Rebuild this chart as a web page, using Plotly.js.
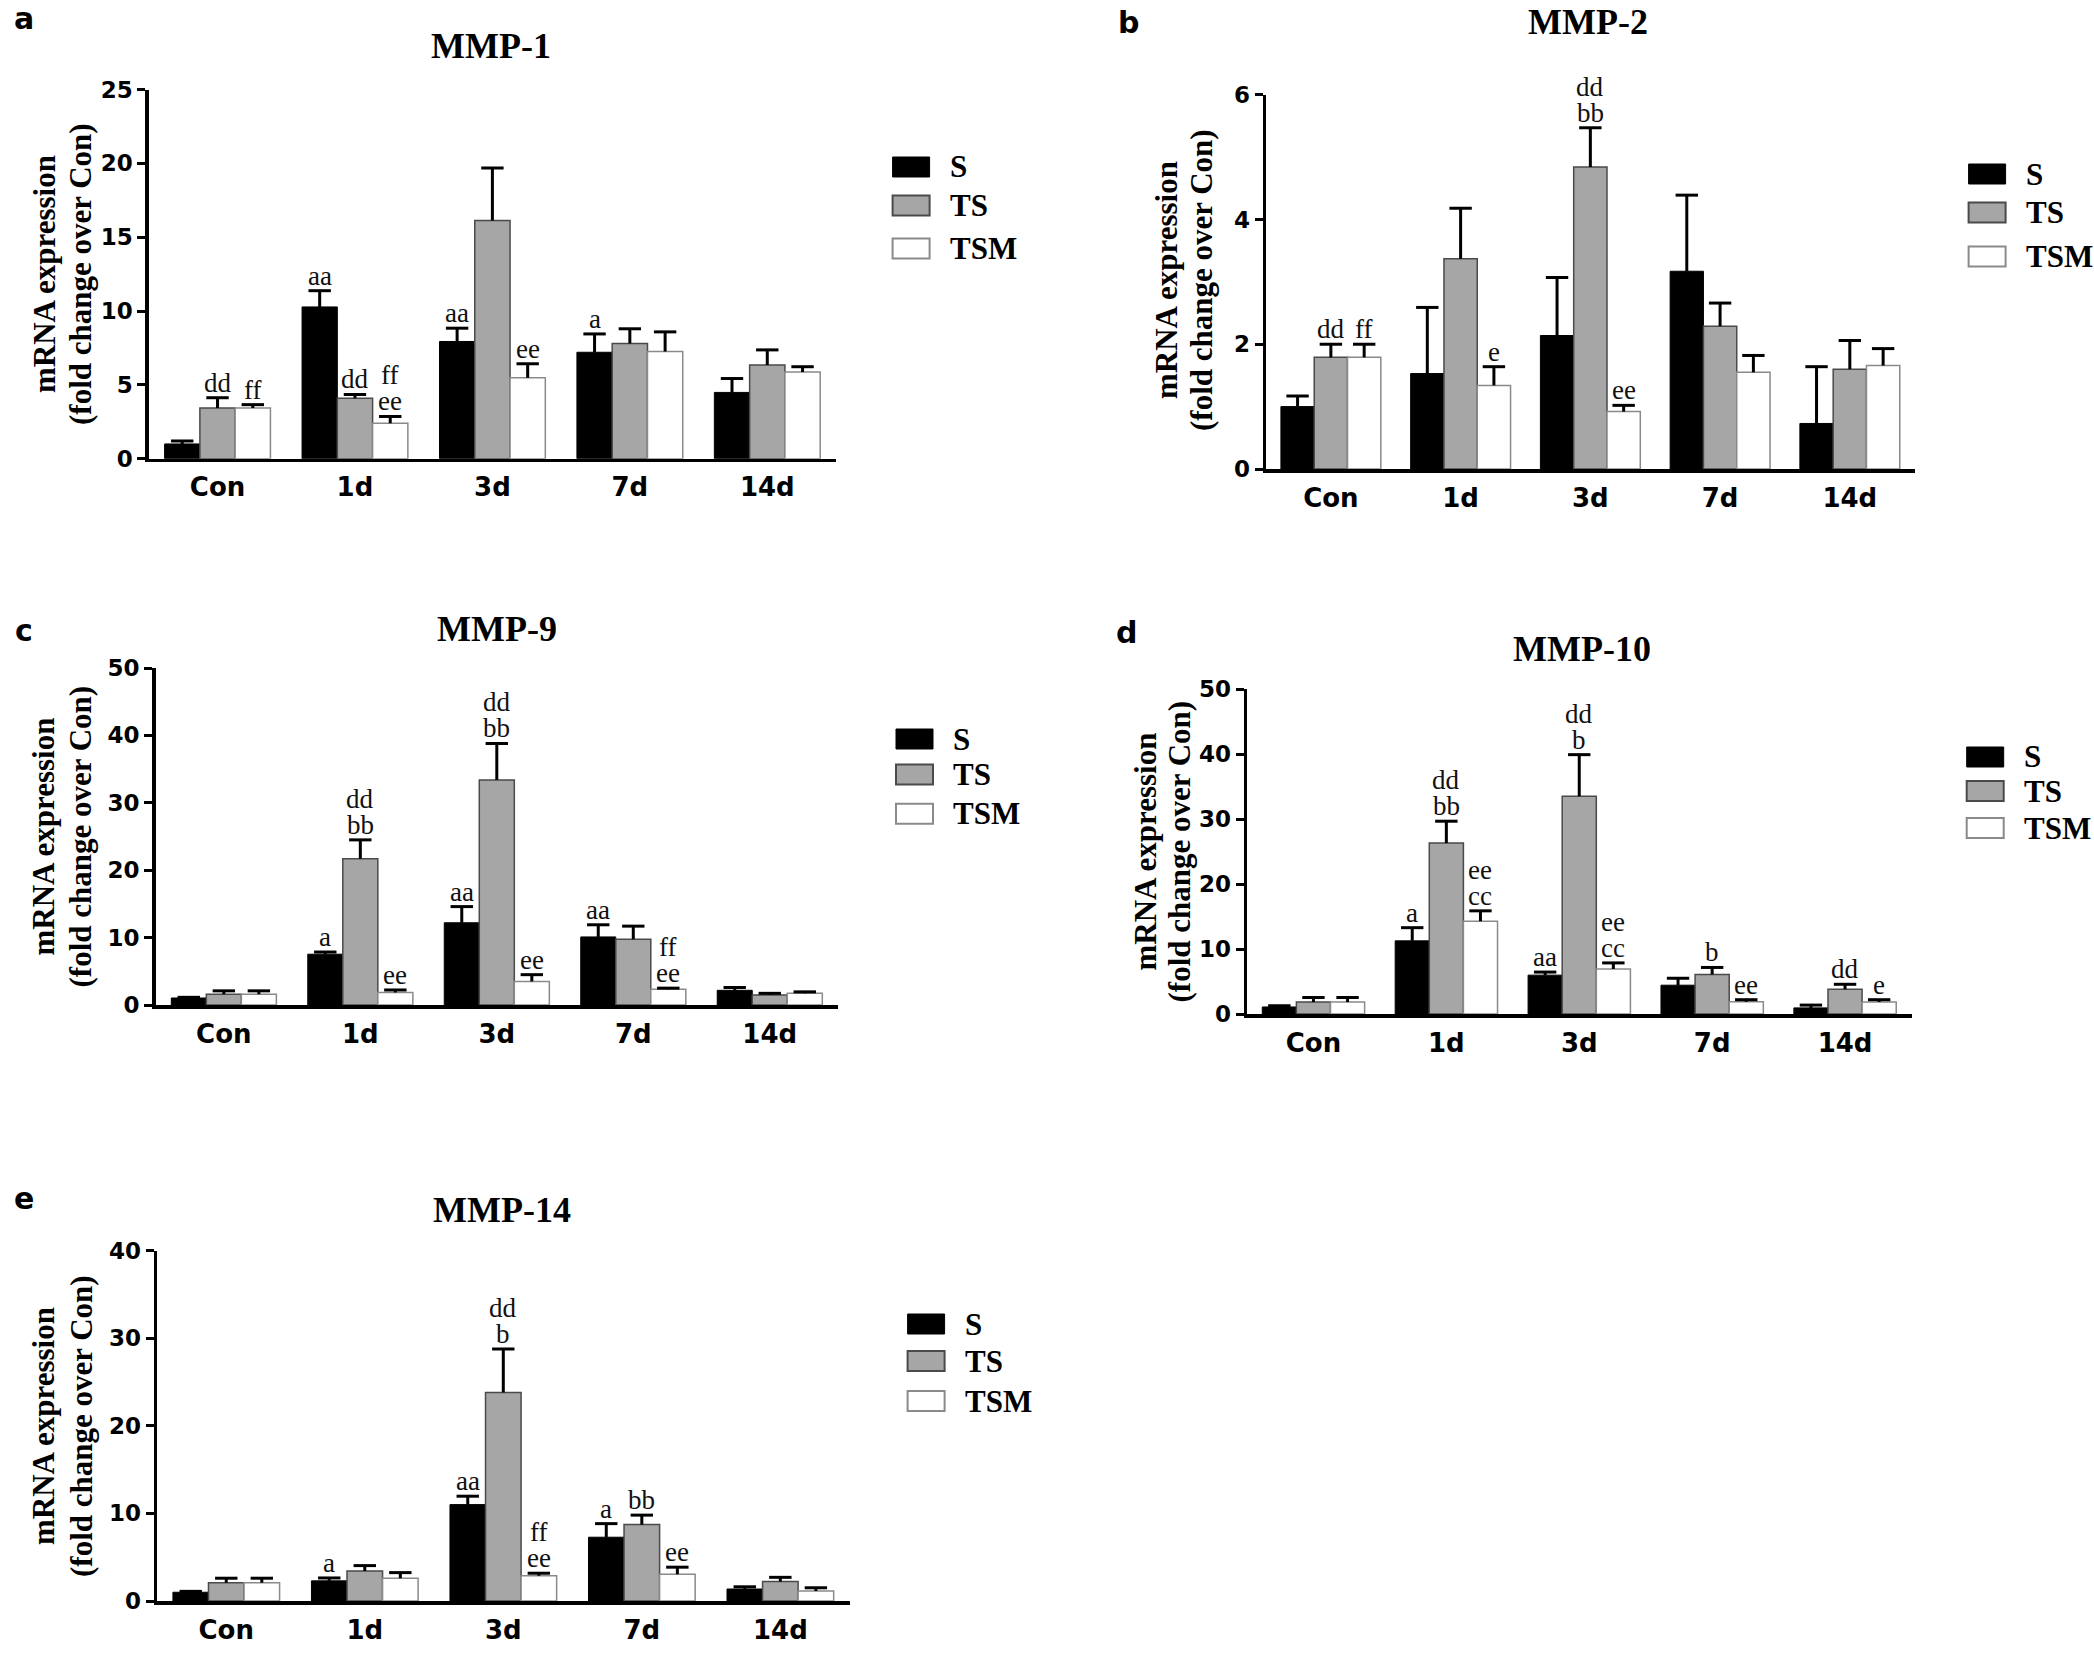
<!DOCTYPE html>
<html><head><meta charset="utf-8">
<script src="https://cdn.plot.ly/plotly-3.0.1.min.js"></script>
<style>html,body{margin:0;padding:0;background:#fff}#chart{width:2094px;height:1665px}</style>
</head><body><div id="chart"></div>
<script>
const categories = ['Con', '1d', '3d', '7d', '14d'];
const seriesNames = ['S', 'TS', 'TSM'];
const yTitleLines = ['mRNA expression', '(fold change over Con)'];

// MMP-1
const mmp1_S = [1.0, 10.28, 7.94, 7.21, 4.49];
const mmp1_S_err = [0.2, 1.1, 0.9, 1.24, 0.94];
const mmp1_TS = [3.43, 4.1, 16.14, 7.8, 6.34];
const mmp1_TS_err = [0.7, 0.25, 3.55, 1.0, 1.03];
const mmp1_TSM = [3.43, 2.4, 5.49, 7.26, 5.88];
const mmp1_TSM_err = [0.23, 0.46, 0.94, 1.33, 0.35];
const mmp1_S_sig = ['', 'aa', 'aa', 'a', ''];
const mmp1_TS_sig = ['dd', 'dd', '', '', ''];
const mmp1_TSM_sig = ['ff', 'ff<br>ee', 'ee', '', ''];

// MMP-2
const mmp2_S = [1.0, 1.53, 2.14, 3.17, 0.73];
const mmp2_S_err = [0.17, 1.06, 0.93, 1.22, 0.91];
const mmp2_TS = [1.79, 3.37, 4.84, 2.29, 1.6];
const mmp2_TS_err = [0.21, 0.81, 0.63, 0.37, 0.46];
const mmp2_TSM = [1.79, 1.34, 0.92, 1.55, 1.66];
const mmp2_TSM_err = [0.21, 0.3, 0.1, 0.27, 0.27];
const mmp2_S_sig = ['', '', '', '', ''];
const mmp2_TS_sig = ['dd', '', 'dd<br>bb', '', ''];
const mmp2_TSM_sig = ['ff', 'e', 'ee', '', ''];

// MMP-9
const mmp9_S = [1.04, 7.54, 12.2, 10.1, 2.18];
const mmp9_S_err = [0.1, 0.32, 2.4, 1.8, 0.42];
const mmp9_TS = [1.6, 21.7, 33.4, 9.76, 1.5];
const mmp9_TS_err = [0.5, 2.8, 5.4, 1.94, 0.23];
const mmp9_TSM = [1.6, 1.86, 3.5, 2.32, 1.73];
const mmp9_TSM_err = [0.5, 0.37, 1.0, 0.18, 0.22];
const mmp9_S_sig = ['', 'a', 'aa', 'aa', ''];
const mmp9_TS_sig = ['', 'dd<br>bb', 'dd<br>bb', '', ''];
const mmp9_TSM_sig = ['', 'ee', 'ee', 'ff<br>ee', ''];

// MMP-10
const mmp10_S = [1.08, 11.25, 5.98, 4.43, 0.94];
const mmp10_S_err = [0.19, 2.03, 0.47, 1.07, 0.43];
const mmp10_TS = [1.84, 26.3, 33.5, 6.07, 3.81];
const mmp10_TS_err = [0.7, 3.36, 6.4, 1.09, 0.76];
const mmp10_TSM = [1.84, 14.27, 6.92, 1.88, 1.84];
const mmp10_TSM_err = [0.7, 1.6, 0.94, 0.32, 0.36];
const mmp10_S_sig = ['', 'a', 'aa', '', ''];
const mmp10_TS_sig = ['', 'dd<br>bb', 'dd<br>b', 'b', 'dd'];
const mmp10_TSM_sig = ['', 'ee<br>cc', 'ee<br>cc', 'ee', 'e'];

// MMP-14
const mmp14_S = [1.0, 2.3, 11.0, 7.28, 1.37];
const mmp14_S_err = [0.1, 0.33, 0.96, 1.55, 0.25];
const mmp14_TS = [2.09, 3.42, 23.8, 8.72, 2.23];
const mmp14_TS_err = [0.51, 0.62, 4.96, 1.08, 0.47];
const mmp14_TSM = [2.09, 2.6, 2.88, 3.06, 1.15];
const mmp14_TSM_err = [0.51, 0.64, 0.29, 0.8, 0.36];
const mmp14_S_sig = ['', 'a', 'aa', 'a', ''];
const mmp14_TS_sig = ['', '', 'dd<br>b', 'bb', ''];
const mmp14_TSM_sig = ['', '', 'ff<br>ee', 'ee', ''];

// ---------- layout configuration (pixel positions in the 2094x1665 page) ----------
const W = 2094, H = 1665;
const px = v => v / W;
const py = v => 1 - v / H;

const panels = [
  {label: 'a', title: 'MMP-1', vals: [mmp1_S, mmp1_TS, mmp1_TSM], errs: [mmp1_S_err, mmp1_TS_err, mmp1_TSM_err],
   sigs: [mmp1_S_sig, mmp1_TS_sig, mmp1_TSM_sig], yMax: 25, dtick: 5,
   xd: [148.8, 836], yd: [89.6, 458.7], titleP: [491, 45.6], labelP: [24, 18.6], ytX: [44, 80], ytY: 274,
   legX: 892.6, legRows: [167, 205.5, 248.4]},
  {label: 'b', title: 'MMP-2', vals: [mmp2_S, mmp2_TS, mmp2_TSM], errs: [mmp2_S_err, mmp2_TS_err, mmp2_TSM_err],
   sigs: [mmp2_S_sig, mmp2_TS_sig, mmp2_TSM_sig], yMax: 6, dtick: 2,
   xd: [1266, 1914.7], yd: [94.7, 469], titleP: [1588, null], labelP: [1128.5, 22.4], ytX: [1166, 1201], ytY: 280,
   legX: 1968.6, legRows: [174, 212.5, 256.6]},
  {label: 'c', title: 'MMP-9', vals: [mmp9_S, mmp9_TS, mmp9_TSM], errs: [mmp9_S_err, mmp9_TS_err, mmp9_TSM_err],
   sigs: [mmp9_S_sig, mmp9_TS_sig, mmp9_TSM_sig], yMax: 50, dtick: 10,
   xd: [155.6, 838], yd: [668, 1005], titleP: [497, 629], labelP: [24, 630.6], ytX: [43, 80], ytY: 836.5,
   legX: 896, legRows: [739, 774.5, 813.7]},
  {label: 'd', title: 'MMP-10', vals: [mmp10_S, mmp10_TS, mmp10_TSM], errs: [mmp10_S_err, mmp10_TS_err, mmp10_TSM_err],
   sigs: [mmp10_S_sig, mmp10_TS_sig, mmp10_TSM_sig], yMax: 50, dtick: 10,
   xd: [1247, 1911.5], yd: [689, 1014], titleP: [1582, 649], labelP: [1126.6, 632], ytX: [1145, 1179], ytY: 851.5,
   legX: 1966.7, legRows: [757, 791, 828]},
  {label: 'e', title: 'MMP-14', vals: [mmp14_S, mmp14_TS, mmp14_TSM], errs: [mmp14_S_err, mmp14_TS_err, mmp14_TSM_err],
   sigs: [mmp14_S_sig, mmp14_TS_sig, mmp14_TSM_sig], yMax: 40, dtick: 10,
   xd: [157, 849.6], yd: [1250.5, 1601], titleP: [501.6, 1209.5], labelP: [24, 1198], ytX: [43, 81], ytY: 1426,
   legX: 907.6, legRows: [1324, 1361, 1401]}
];

const styles = [
  {fill: '#000000', line: '#000000', lw: 1},
  {fill: '#a6a6a6', line: '#4a4a4a', lw: 1.5},
  {fill: '#ffffff', line: '#8a8a8a', lw: 1.5}
];

const BARGAP = 0.23;
const barW = (1 - BARGAP) / 3;
const SANS = 'DejaVu Sans, Verdana, sans-serif';
const SERIF = 'Liberation Serif, Times New Roman, serif';
const catIdx = categories.map((c, i) => i);

const traces = [];
const layout = {
  width: W, height: H,
  margin: {l: 0, r: 0, t: 0, b: 0},
  paper_bgcolor: '#fff', plot_bgcolor: '#fff',
  barmode: 'group', bargap: BARGAP, bargroupgap: 0,
  showlegend: false, hovermode: false,
  annotations: [], shapes: []
};

panels.forEach((p, pi) => {
  const n = pi + 1;
  const xa = n === 1 ? 'x' : 'x' + n;
  const ya = n === 1 ? 'y' : 'y' + n;
  const xKey = n === 1 ? 'xaxis' : 'xaxis' + n;
  const yKey = n === 1 ? 'yaxis' : 'yaxis' + n;

  seriesNames.forEach((s, k) => {
    const tops = p.vals[k].map((v, i) => v + p.errs[k][i]);
    const xs = catIdx.map(i => i + (k - 1) * barW);
    // bars with the error stem (upper side only)
    traces.push({
      type: 'bar', name: s, x: catIdx, y: p.vals[k],
      xaxis: xa, yaxis: ya,
      marker: {color: styles[k].fill, line: {color: styles[k].line, width: styles[k].lw}},
      error_y: {type: 'data', array: p.errs[k], arrayminus: p.errs[k].map(() => 0), symmetric: false,
                color: '#000', thickness: 3, width: 0}
    });
    // error bar caps
    traces.push({
      type: 'scatter', mode: 'markers', name: s + ' SEM', x: xs, y: tops,
      xaxis: xa, yaxis: ya, cliponaxis: false,
      marker: {symbol: 'line-ew', size: 16, color: '#000', line: {color: '#000', width: 3}}
    });
    // significance letters (one annotation per line, stacked upward)
    p.sigs[k].forEach((txt, i) => {
      if (!txt) return;
      txt.split('<br>').reverse().forEach((line, j) => {
        layout.annotations.push({
          xref: xa, yref: ya, x: xs[i], y: tops[i],
          text: line, showarrow: false, xanchor: 'center', yanchor: 'bottom', yshift: -2 + j * 26,
          font: {family: SERIF, size: 27, color: '#111'}
        });
      });
    });
    // legend
    const ry = p.legRows[k];
    layout.shapes.push({
      type: 'rect', xref: 'paper', yref: 'paper',
      x0: px(p.legX), x1: px(p.legX + 37), y0: py(ry + 10), y1: py(ry - 10),
      fillcolor: styles[k].fill, line: {color: styles[k].line, width: k === 0 ? 1 : 2}
    });
    layout.annotations.push({
      xref: 'paper', yref: 'paper', x: px(p.legX + 55), y: py(ry), text: s,
      showarrow: false, xanchor: 'left', yanchor: 'middle',
      font: {family: SERIF, size: 31, color: '#000', weight: 700}
    });
  });

  layout[xKey] = {
    domain: [px(p.xd[0]), px(p.xd[1])], anchor: ya,
    range: [-0.5, 4.5], tickmode: 'array', tickvals: catIdx, ticktext: categories,
    showline: true, linecolor: '#000', linewidth: 3.5,
    ticks: 'outside', ticklen: 3, tickcolor: 'rgba(0,0,0,0)',
    showgrid: false, zeroline: false,
    tickfont: {family: SANS, size: 26, color: '#000', weight: 700}
  };
  layout[yKey] = {
    domain: [py(p.yd[1]), py(p.yd[0])], anchor: xa,
    range: [0, p.yMax], dtick: p.dtick, tick0: 0,
    showline: true, linecolor: '#000', linewidth: 3.5,
    ticks: 'outside', ticklen: 8, tickwidth: 3, tickcolor: '#000',
    showgrid: false, zeroline: false,
    tickfont: {family: SANS, size: 23, color: '#000', weight: 700}
  };

  // panel title
  const tAnn = {
    xref: 'paper', yref: 'paper', x: px(p.titleP[0]), text: p.title,
    showarrow: false, xanchor: 'center',
    font: {family: SERIF, size: 36, color: '#000', weight: 700}
  };
  if (p.titleP[1] === null) { tAnn.y = 1; tAnn.yanchor = 'top'; }
  else { tAnn.y = py(p.titleP[1]); tAnn.yanchor = 'middle'; }
  layout.annotations.push(tAnn);
  // panel letter
  layout.annotations.push({
    xref: 'paper', yref: 'paper', x: px(p.labelP[0]), y: py(p.labelP[1]), text: p.label,
    showarrow: false, xanchor: 'center', yanchor: 'middle',
    font: {family: SANS, size: 30, color: '#000', weight: 700}
  });
  // y-axis title (two rotated lines)
  yTitleLines.forEach((line, j) => {
    layout.annotations.push({
      xref: 'paper', yref: 'paper', x: px(p.ytX[j]), y: py(p.ytY),
      text: line, textangle: -90,
      showarrow: false, xanchor: 'center', yanchor: 'middle',
      font: {family: SERIF, size: 31, color: '#000', weight: 700}
    });
  });
});

Plotly.newPlot('chart', traces, layout, {staticPlot: true, displayModeBar: false});
</script>
</body></html>
